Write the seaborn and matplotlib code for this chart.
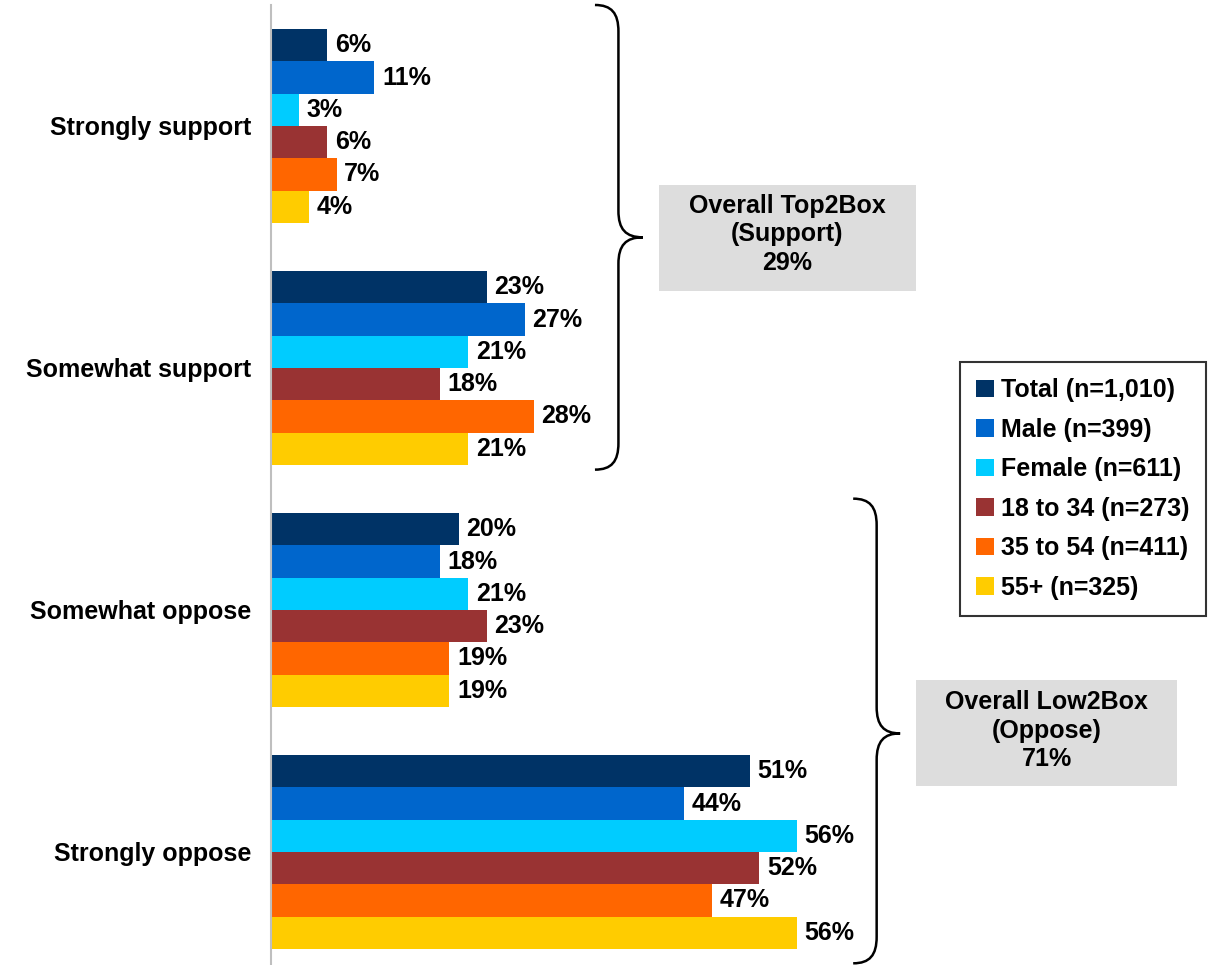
import matplotlib.pyplot as plt
import numpy as np
import pandas as pd
import seaborn as sns
from matplotlib.patches import Patch, Rectangle, PathPatch
from matplotlib.path import Path

answers = ['Strongly support', 'Somewhat support', 'Somewhat oppose', 'Strongly oppose']
groups = ['Total (n=1,010)', 'Male (n=399)', 'Female (n=611)',
          '18 to 34 (n=273)', '35 to 54 (n=411)', '55+ (n=325)']
total = [6, 23, 20, 51]
male = [11, 27, 18, 44]
female = [3, 21, 21, 56]
age_18_34 = [6, 18, 23, 52]
age_35_54 = [7, 28, 19, 47]
age_55_plus = [4, 21, 19, 56]
colors = ['#003366', '#0066CC', '#00CCFF', '#993333', '#FF6600', '#FFCC00']

sns.set_style('white')
plt.rcParams['font.family'] = ['Liberation Sans', 'DejaVu Sans']
plt.rcParams['font.weight'] = 'bold'
plt.rcParams['text.color'] = 'black'
plt.rcParams['ytick.color'] = 'black'
plt.rcParams['ytick.labelcolor'] = 'black'

series = [total, male, female, age_18_34, age_35_54, age_55_plus]
df = pd.DataFrame({
    'Answer': answers * len(groups),
    'Group': np.repeat(groups, len(answers)),
    'Percent': np.concatenate(series),
})

fig = plt.figure(figsize=(12.1, 9.65), dpi=100)
ax = fig.add_axes([271 / 1210, 0.0, 1 - 271 / 1210, 1 - 5 / 965])

sns.barplot(data=df, y='Answer', x='Percent', hue='Group', order=answers,
            hue_order=groups, palette=colors, orient='h', width=0.8,
            saturation=1, linewidth=0, legend=False, ax=ax)

for cont in ax.containers:
    ax.bar_label(cont, fmt='{:.0f}%', padding=5.5, fontsize=18, fontweight='bold', color='black')

ax.set_xlim(0, 100)
ax.set_ylim(3.467, -0.5)
ax.set_xlabel('')
ax.set_ylabel('')
ax.set_xticks([])
ax.tick_params(axis='y', length=0, pad=14, labelsize=18, labelcolor='black')
for lab in ax.get_yticklabels():
    lab.set_fontweight('bold')
for side in ['top', 'right', 'bottom']:
    ax.spines[side].set_visible(False)
ax.spines['left'].set_color('#BFBFBF')
ax.spines['left'].set_linewidth(1.5)


def brace(ax, x_end, x_stem, x_tip, y_top, y_tip, y_bot, ry):
    # curly brace pointing right, drawn in data units
    verts = [
        (x_end, y_top),
        (x_end + 0.7 * (x_stem - x_end), y_top), (x_stem, y_top + 0.3 * ry), (x_stem, y_top + ry),
        (x_stem, y_tip - ry),
        (x_stem, y_tip - 0.3 * ry), (x_stem + 0.3 * (x_tip - x_stem), y_tip), (x_tip, y_tip),
        (x_stem + 0.3 * (x_tip - x_stem), y_tip), (x_stem, y_tip + 0.3 * ry), (x_stem, y_tip + ry),
        (x_stem, y_bot - ry),
        (x_stem, y_bot - 0.3 * ry), (x_end + 0.7 * (x_stem - x_end), y_bot), (x_end, y_bot),
    ]
    codes = [Path.MOVETO, Path.CURVE4, Path.CURVE4, Path.CURVE4, Path.LINETO,
             Path.CURVE4, Path.CURVE4, Path.CURVE4, Path.CURVE4, Path.CURVE4, Path.CURVE4,
             Path.LINETO, Path.CURVE4, Path.CURVE4, Path.CURVE4]
    ax.add_patch(PathPatch(Path(verts, codes), facecolor='none', edgecolor='black',
                           linewidth=1.8, clip_on=False))


brace(ax, 34.5, 37.0, 39.6, -0.50, 0.46, 1.42, 0.11)
brace(ax, 62.0, 64.5, 67.0, 1.54, 2.51, 3.46, 0.11)

# summary boxes
ax.add_patch(Rectangle((41.3, 0.242), 27.4, 0.438, facecolor='#DDDDDD', edgecolor='none'))
ax.text(55.0, 0.448, 'Overall Top2Box\n(Support)\n29%', ha='center', va='center',
        fontsize=18, fontweight='bold', linespacing=1.22, multialignment='center')
ax.add_patch(Rectangle((68.7, 2.29), 27.8, 0.438, facecolor='#DDDDDD', edgecolor='none'))
ax.text(82.6, 2.498, 'Overall Low2Box\n(Oppose)\n71%', ha='center', va='center',
        fontsize=18, fontweight='bold', linespacing=1.22, multialignment='center')

handles = [Patch(facecolor=c, edgecolor='none') for c in colors]
leg = ax.legend(handles, groups, loc='upper left', bbox_to_anchor=(960 / 1210, 1 - 362 / 965),
                bbox_transform=fig.transFigure, frameon=True, fancybox=False,
                edgecolor='black', fontsize=18, handlelength=0.7, handleheight=0.7,
                handletextpad=0.28, labelspacing=0.62, borderpad=0.65, borderaxespad=0)
leg.get_frame().set_linewidth(1.5)
for t in leg.get_texts():
    t.set_fontweight('bold')
    t.set_color('black')

fig.savefig('out.png', dpi=100)
